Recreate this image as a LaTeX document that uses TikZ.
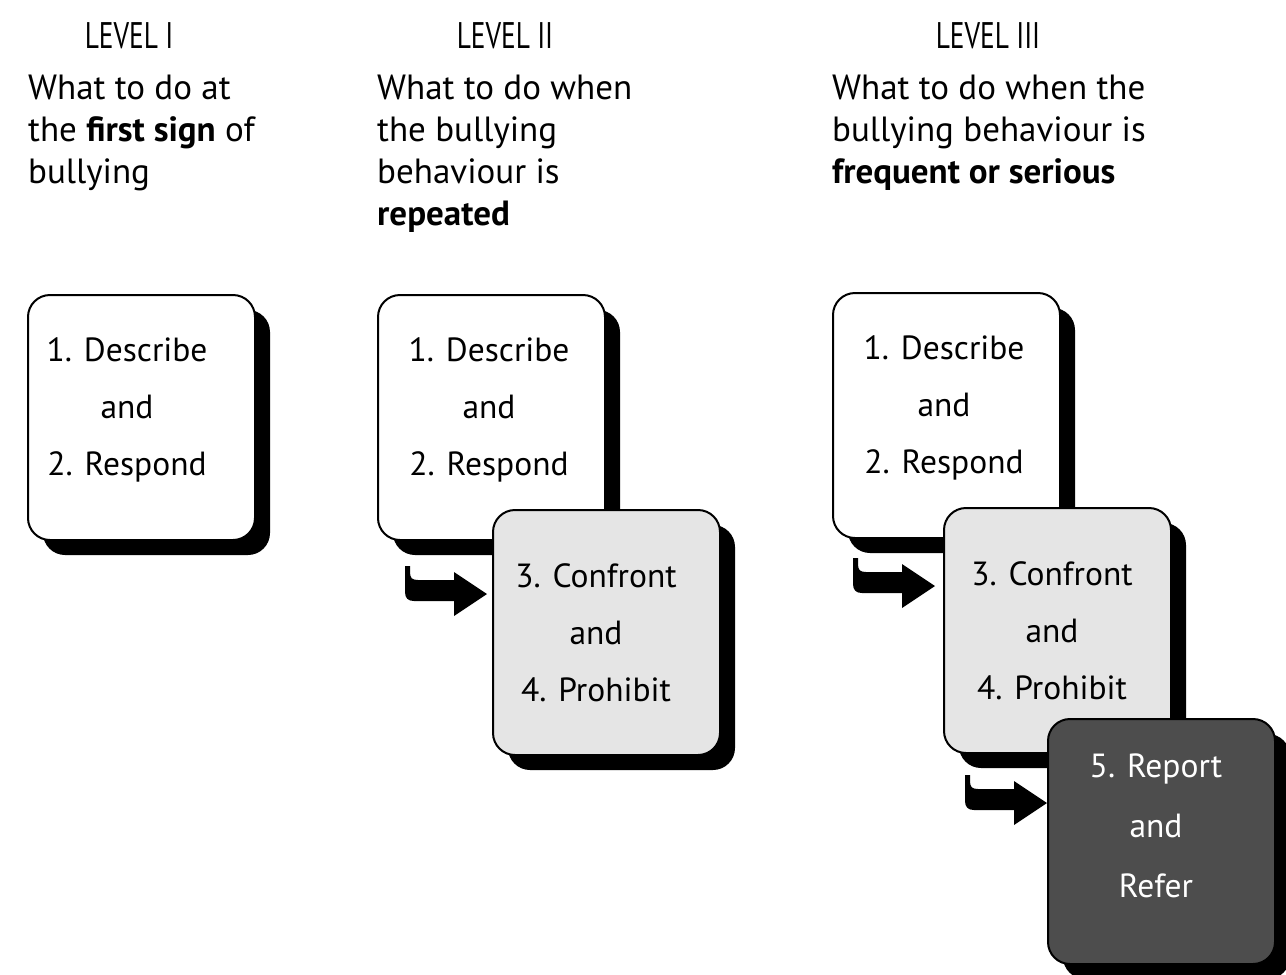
\documentclass[tikz,border=0pt]{standalone}
\usepackage{fontspec}
\setmainfont{PT Sans}
\newfontfamily\narrowfont[FakeStretch=0.74]{PT Sans}
\usetikzlibrary{shadows}
\definecolor{lightcard}{HTML}{E5E5E5}
\definecolor{darkcard}{HTML}{4D4D4D}
\tikzset{
  card/.style={draw,line width=2pt,rounded corners=22pt,anchor=north west,
    minimum width=227pt,minimum height=245pt,inner sep=0pt,
    drop shadow={shadow xshift=15pt,shadow yshift=-15pt,opacity=1,fill=black}},
  firstcard/.style={card,fill=white},
  secondcard/.style={card,fill=lightcard},
  thirdcard/.style={card,fill=darkcard},
  cardtext/.style={anchor=north,align=center,inner sep=0pt,font=\fontsize{33.5}{57}\selectfont},
  leveltitle/.style={inner sep=0pt,font=\narrowfont\fontsize{37}{40}\selectfont},
  whattodo/.style={anchor=north west,align=left,inner sep=0pt,font=\fontsize{35}{42}\selectfont},
  turnarrow/.pic={
    \fill (0,0) -- (5,0) -- (5,6) .. controls (5,12) and (7,14) .. (13,14)
      -- (49,14) -- (49,6) -- (82,28) -- (49,50) -- (49,35) -- (9,35)
      .. controls (3,35) and (0,32) .. (0,26) -- cycle;
  }
}
\begin{document}
\begin{tikzpicture}[x=1pt,y=-1pt]
  \useasboundingbox (0,0) rectangle (1286,975);

  % headings
  \node[leveltitle] (lvl1) at (129,36) {LEVEL I};
  \node[leveltitle] (lvl2) at (505,36) {LEVEL II};
  \node[leveltitle] (lvl3) at (988,36) {LEVEL III};

  \node[whattodo] (what1) at (28,75)  {What to do at\\the \textbf{first sign} of\\bullying};
  \node[whattodo] (what2) at (377,75) {What to do when\\the bullying\\behaviour is\\\textbf{repeated}};
  \node[whattodo] (what3) at (832,75) {What to do when the\\bullying behaviour is\\\textbf{frequent or serious}};

  % level I
  \node[firstcard] (card1) at (27,294) {};
  \node[cardtext] (text1) at (127,337) {1. Describe\\and\\2. Respond};

  % level II
  \node[firstcard] (card2a) at (377,294) {};
  \node[cardtext] (text2a) at (489,337) {1. Describe\\and\\2. Respond};
  \pic at (405,566) {turnarrow};
  \node[secondcard] (card2b) at (492,509) {};
  \node[cardtext] (text2b) at (596,563) {3. Confront\\and\\4. Prohibit};

  % level III
  \node[firstcard] (card3a) at (832,292) {};
  \node[cardtext] (text3a) at (944,335) {1. Describe\\and\\2. Respond};
  \pic at (853,558) {turnarrow};
  \node[secondcard] (card3b) at (943,507) {};
  \node[cardtext] (text3b) at (1052,561) {3. Confront\\and\\4. Prohibit};
  \pic at (965,775) {turnarrow};
  \node[thirdcard] (card3c) at (1047,718) {};
  \node[cardtext,text=white,font=\fontsize{33.5}{60}\selectfont] (text3c) at (1156,754) {5. Report\\and\\Refer};
\end{tikzpicture}
\end{document}
